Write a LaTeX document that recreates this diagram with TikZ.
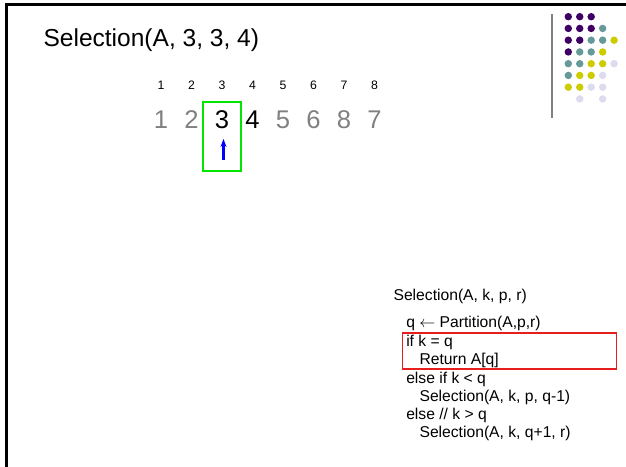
\documentclass[tikz,border=0pt]{standalone}
\usepackage{fontspec}
\setmainfont{Liberation Sans}
\usetikzlibrary{arrows.meta}

\definecolor{dotpurple}{RGB}{62,0,100}
\definecolor{dotteal}{RGB}{102,153,153}
\definecolor{dotyellow}{RGB}{204,204,0}
\definecolor{dotlav}{RGB}{220,220,238}
\definecolor{dimgray}{RGB}{128,128,128}
\definecolor{boxgreen}{RGB}{0,230,0}
\definecolor{boxred}{RGB}{230,30,30}
\definecolor{ptrblue}{RGB}{0,0,255}

\tikzset{
  titletext/.style={anchor=base west, inner sep=0pt, font=\fontsize{18.4pt}{20pt}\selectfont},
  idxtext/.style={anchor=base, inner sep=0pt, font=\fontsize{9.2pt}{10pt}\selectfont},
  valtext/.style={anchor=base, inner sep=0pt, font=\fontsize{19.2pt}{22pt}\selectfont},
  dimval/.style={valtext, text=dimgray},
  codetext/.style={anchor=base west, inner sep=0pt, font=\fontsize{11.75pt}{13pt}\selectfont},
  greenbox/.style={draw=boxgreen, line width=1.5pt, minimum width=37.4*0.75pt, minimum height=68.4*0.75pt, inner sep=0pt},
  redbox/.style={draw=boxred, line width=0.8pt, minimum width=214.4*0.75pt, minimum height=36*0.75pt, inner sep=0pt},
  dot/.style={circle, inner sep=0pt, minimum size=5.6pt},
  P/.style={dot, fill=dotpurple},
  T/.style={dot, fill=dotteal},
  Y/.style={dot, fill=dotyellow},
  L/.style={dot, fill=dotlav},
}

\begin{document}
\begin{tikzpicture}[x=0.75pt, y=-0.75pt]
\useasboundingbox (0,0) rectangle (626,467);

% slide frame
\draw[line width=2.25pt] (6,467) -- (6,5) -- (626,5);

% heading
\node[titletext] (title) at (43.3,46.7) {Selection(A, 3, 3, 4)};

% array indices and values
\foreach \i/\v/\s in {1/1/dimval,2/2/dimval,3/3/valtext,4/4/valtext,5/5/dimval,6/6/dimval,7/8/dimval,8/7/dimval}{
  \node[idxtext] (idx\i) at ({161+30.5*(\i-1)},90) {\i};
  \node[\s] (val\i) at ({161+30.5*(\i-1)},128.3) {\v};
}

% current element and pointer
\node[greenbox] (cur) at (222,136.5) {};
\coordinate (ptail) at (223.5,160);
\coordinate (phead) at (223.5,139);
\draw[ptrblue, line width=1.6pt, -{Stealth[length=6pt,width=4.5pt]}] (ptail) -- (phead);

% pseudo-code
\node[codetext] (c0) at (393.3,300.7) {Selection(A, k, p, r)};
\node[codetext] (c1) at (406,327.6) {q \(\leftarrow\) Partition(A,p,r)};
\node[codetext] (c2) at (406,346) {if k = q};
\node[codetext] (c3) at (419.3,364.2) {Return A[q]};
\node[codetext] (c4) at (406,383.8) {else if k < q};
\node[codetext] (c5) at (419.3,401.7) {Selection(A, k, p, q-1)};
\node[codetext] (c6) at (406,419.3) {else // k > q};
\node[codetext] (c7) at (419.3,437.3) {Selection(A, k, q+1, r)};
\node[redbox] (hl) at (509.5,351) {};

% decorative corner
\draw[dimgray, line width=1.5pt] (551.7,14) coordinate (vtop) -- (551.7,118) coordinate (vbot);
\foreach \r/\row in {0/{P,P,P,-,-},1/{P,P,P,T,-},2/{P,P,T,T,Y},3/{P,T,T,Y,-},4/{T,T,Y,Y,L},5/{T,Y,Y,L,-},6/{Y,Y,L,L,-},7/{-,L,-,L,-}}{
  \foreach \k [count=\c from 0] in \row {
    \if\k-\else
      \node[\k] (d\r\c) at ({568.3+11.45*\c},{16.7+11.75*\r}) {};
    \fi
  }
}
\end{tikzpicture}
\end{document}
